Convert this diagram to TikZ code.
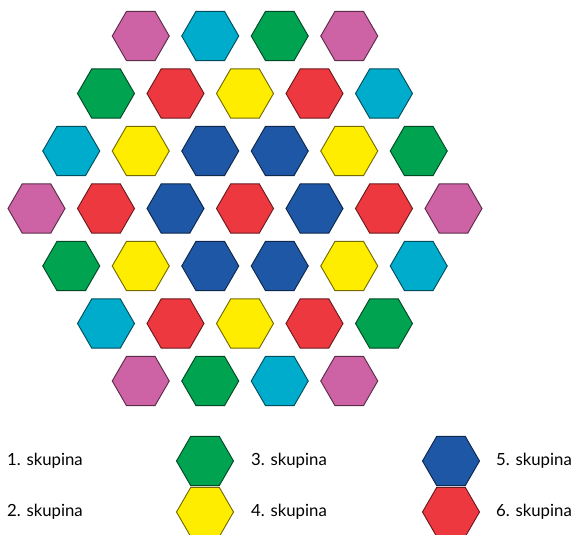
\documentclass[tikz,border=0pt]{standalone}
\usepackage{fontspec}
\setmainfont{Lato}
\usepackage{tikz}
\usetikzlibrary{shapes.geometric}

\definecolor{hpink}{RGB}{205,98,165}
\definecolor{hcyan}{RGB}{0,172,204}
\definecolor{hgreen}{RGB}{0,163,80}
\definecolor{hyellow}{RGB}{255,237,0}
\definecolor{hblue}{RGB}{30,87,166}
\definecolor{hred}{RGB}{238,56,64}

\begin{document}
\begin{tikzpicture}[
  x=0.03cm, y=-0.03cm,
  font=\fontsize{14.3}{17}\selectfont,
  hex/.style={regular polygon, regular polygon sides=6, minimum size=1.71cm,
              inner sep=0pt, fill=#1, draw=#1!45!black, line width=0.8pt},
  lbl/.style={anchor=west, inner sep=0pt},
]
\useasboundingbox (0,0) rectangle (574,535);

% the hexagon field
\foreach \r/\n/\cols in {
  1/4/{hpink,hcyan,hgreen,hpink},
  2/5/{hgreen,hred,hyellow,hred,hcyan},
  3/6/{hcyan,hyellow,hblue,hblue,hyellow,hgreen},
  4/7/{hpink,hred,hblue,hred,hblue,hred,hpink},
  5/6/{hgreen,hyellow,hblue,hblue,hyellow,hcyan},
  6/5/{hcyan,hred,hyellow,hred,hgreen},
  7/4/{hpink,hgreen,hcyan,hpink}}{
  \foreach \c [count=\k] in \cols {
    \pgfmathsetmacro\hx{245+69.5*(\k-1-(\n-1)/2)}
    \pgfmathsetmacro\hy{36+57.5*(\r-1)}
    \node[hex=\c] (h\r-\k) at (\hx,\hy) {};
  }
}

% legend
\node[lbl] (g1) at (7,461)   {1. skupina};
\node[lbl] (g2) at (7,512)   {2. skupina};
\node[hex=hgreen]  (k3) at (205,461) {};
\node[hex=hyellow] (k4) at (205,512) {};
\node[lbl] (g3) at (251,461) {3. skupina};
\node[lbl] (g4) at (251,512) {4. skupina};
\node[hex=hblue]   (k5) at (451,461) {};
\node[hex=hred]    (k6) at (451,512) {};
\node[lbl] (g5) at (496,461) {5. skupina};
\node[lbl] (g6) at (496,512) {6. skupina};
\end{tikzpicture}
\end{document}
